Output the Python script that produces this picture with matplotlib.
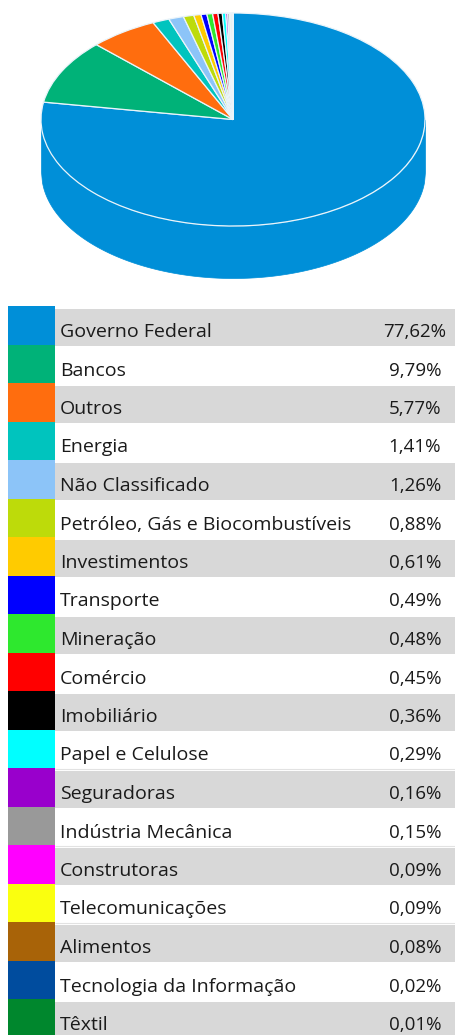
import numpy as np
import matplotlib
matplotlib.use("Agg")
import matplotlib.pyplot as plt

categories = ["Governo Federal", "Bancos", "Outros", "Energia", "Não Classificado",
              "Petróleo, Gás e Biocombustíveis", "Investimentos", "Transporte", "Mineração",
              "Comércio", "Imobiliário", "Papel e Celulose", "Seguradoras", "Indústria Mecânica",
              "Construtoras", "Telecomunicações", "Alimentos", "Tecnologia da Informação", "Têxtil"]
values = [77.62, 9.79, 5.77, 1.41, 1.26, 0.88, 0.61, 0.49, 0.48, 0.45, 0.36, 0.29, 0.16, 0.15,
          0.09, 0.09, 0.08, 0.02, 0.01]
colors = ["#008FD8", "#00B278", "#FF6D0E", "#00C4BE", "#8CC4F8", "#BDDB0A", "#FFCB00", "#0000FF",
          "#2EE82E", "#FF0000", "#000000", "#00FFFF", "#9900CC", "#999999", "#FF00FF", "#FAFF0F",
          "#A86308", "#004C9E", "#00872D"]

W, H = 456, 1035
fig = plt.figure(figsize=(W / 100, H / 100), dpi=100, facecolor="white")

# Table layer in pixel coordinates
tb = fig.add_axes([0, 0, 1, 1])
tb.set_xlim(0, W)
tb.set_ylim(H, 0)
tb.axis("off")
ROW_TOP, ROW_H = 306.0, 38.5
for i, (name, val, col) in enumerate(zip(categories, values, colors)):
    top = ROW_TOP + ROW_H * i
    if i % 2 == 0:
        tb.barh(top + 3 + (ROW_H - 1.5) / 2, W - 55 + 2, height=ROW_H - 1.5, left=55,
                color="#D8D8D8", linewidth=0)
    if i in (11, 13, 15):
        tb.plot([55, W], [top + ROW_H + 1, top + ROW_H + 1], color="#E2E2E2", linewidth=0.8,
                solid_capstyle="butt")
for i, (name, val, col) in enumerate(zip(categories, values, colors)):
    top = ROW_TOP + ROW_H * i
    tb.barh(top + ROW_H / 2, 47, height=ROW_H, left=8, color=col, linewidth=0)
    tb.text(60, top + 26, name, family="Open Sans", fontsize=14.0, color="#1a1a1a",
            va="center", ha="left")
    label = f"{val:.2f}".replace(".", ",") + "%"
    tb.text(415, top + 26, label, family="Open Sans", fontsize=13.5, color="#1a1a1a",
            va="center", ha="center")

# Pie layer: the unit circle is squashed by the axes box into the tilted ellipse
PX_L, PX_R, PX_T, PX_B, DEPTH = 41, 425, 13, 226, 52
ax = fig.add_axes([PX_L / W, 1 - (PX_B + DEPTH) / H, (PX_R - PX_L) / W, (PX_B + DEPTH - PX_T) / H])
wedges, _ = ax.pie(values, colors=colors, startangle=90, counterclock=False, radius=1,
                   wedgeprops=dict(edgecolor="#EAF4FA", linewidth=0.9))
for w in wedges:
    w.set_clip_on(False)
    w.set_zorder(3)
d = DEPTH / ((PX_B - PX_T) / 2)
ax.set_aspect("auto")
ax.set_xlim(-1, 1)
ax.set_ylim(-1 - d, 1)
xs = np.linspace(-1, 1, 400)
rim = -np.sqrt(1 - xs ** 2)
ax.fill_between(xs, rim, rim - d, color=colors[0], linewidth=0.5, zorder=1, clip_on=False)
ax.patch.set_alpha(0)

fig.savefig("out.png", dpi=100)
